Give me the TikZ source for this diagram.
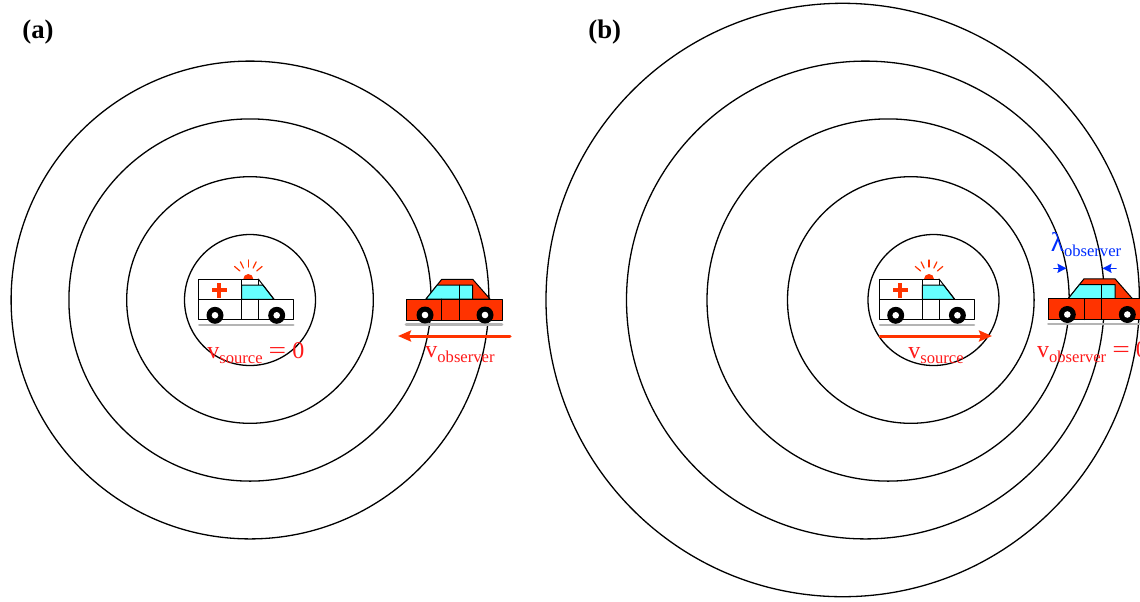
\documentclass[tikz,border=0pt]{standalone}
\usepackage{fontspec}
\setmainfont{Liberation Serif}
\usetikzlibrary{arrows.meta}

\definecolor{sirenred}{RGB}{255,51,0}
\definecolor{txtred}{RGB}{255,25,25}
\definecolor{glass}{RGB}{102,255,255}
\definecolor{road}{RGB}{180,180,180}
\definecolor{lamblue}{RGB}{0,45,255}

% lowered small subscript, upright like the main letter
\newcommand{\lowsub}[1]{\raisebox{-2.6pt}{\fontsize{8.3}{9}\selectfont #1}}
% a wider equals sign
\newcommand{\wideeq}{\scalebox{1.3}[1]{=}}

\tikzset{
	wave/.style={line width=.65pt},
	part/.style={draw=black, line width=.5pt},
	lbl/.style={inner sep=0pt, anchor=base west, text=txtred, font=\fontsize{12}{14}\selectfont},
	speed/.style={draw=sirenred, line width=1.5pt, -{Stealth[length=6.5pt,width=5.5pt,inset=1pt]}},
	gap/.style={draw=lamblue, line width=.8pt, -{Stealth[length=4.5pt,width=4.5pt,inset=.6pt]}},
	% ambulance, origin at the lower left corner of the body
	ambulance/.pic={
		\draw[road, line width=1.3pt] (1,5.5) -- (95,5.5);
		\fill[sirenred] (50,-40.3) circle (5);
		\foreach \a in {-40,-64,-90,-116,-140}
			\draw[sirenred, line width=.6pt, shift={(50,-41.3)}] (\a:11) -- (\a:18);
		\filldraw[fill=white, part] (0,-20) rectangle (43.4,-40.3);
		\filldraw[fill=white, part] (43.4,-34.3) rectangle (60,-40.3);
		\filldraw[fill=glass, part] (43.4,-20) -- (43.4,-34.3) -- (64.6,-34.3) -- (75.7,-20) -- cycle;
		\draw[part] (60,-40.3) -- (75.7,-20);
		\filldraw[fill=white, part] (0,0) rectangle (95,-20);
		\draw[part] (43.4,0) -- (43.4,-20) (60,0) -- (60,-20);
		\fill[sirenred] (13.5,-27.3) rectangle (28.5,-31.3);
		\fill[sirenred] (19,-21.8) rectangle (23,-36.8);
		\foreach \w in {16.7,78.4}{
			\fill (\w,-4) circle (8.5);
			\fill[white] (\w,-4) circle (3.3);
		}
	},
	% red car, same origin
	redcar/.pic={
		\draw[road, line width=1.3pt] (0,4.5) -- (96,4.5);
		\filldraw[fill=sirenred, part] (20,-21) -- (35.7,-40.7) -- (66.7,-40.7) -- (84,-21) -- cycle;
		\filldraw[fill=glass, part] (31.2,-35) -- (66.7,-35) -- (66.7,-21) -- (20,-21) -- cycle;
		\draw[part] (53.3,-35) -- (53.3,-21);
		\filldraw[fill=sirenred, part] (0,0) rectangle (96,-21);
		\draw[part] (35.7,0) -- (35.7,-21) (53.3,0) -- (53.3,-21);
		\foreach \w in {19,79}{
			\fill (\w,-5) circle (8.5);
			\fill[white] (\w,-5) circle (3.3);
		}
	}
}

\begin{document}
\begin{tikzpicture}[x=.5pt, y=-.5pt, line join=round, line cap=round]
	\def\rzero{65.5} \def\dr{57.8}
	\useasboundingbox (0,0) rectangle (1140,601);
	\clip (0,0) rectangle (1140,601);

	% (a) source at rest, observer moving
	\node[inner sep=0pt, anchor=base west, font=\fontsize{13.4}{15}\selectfont\bfseries] (taga) at (22,38.5) {(a)};
	\foreach \k in {0,...,3}
		\draw[wave] (250,300) circle ({\rzero+\k*\dr});
	\pic at (198.3,319.3) {ambulance};
	\pic at (406,320) {redcar};
	\coordinate (obsTail) at (510,336);
	\coordinate (obsHead) at (398,336);
	\draw[speed] (obsTail) -- (obsHead);
	\node[lbl] (vsa) at (207,358) {v\lowsub{source} \wideeq{} 0};
	\node[lbl] (voa) at (425,357) {v\lowsub{observer}};

	% (b) moving source, wavefronts bunched up ahead of it
	\node[inner sep=0pt, anchor=base west, font=\fontsize{13.4}{15}\selectfont\bfseries] (tagb) at (588,38.5) {(b)};
	\foreach \k in {0,...,4}
		\draw[wave] ({933.5-22.7*\k},300) circle ({\rzero+\k*\dr});
	\pic at (879,319.3) {ambulance};
	\pic at (1048.3,319.5) {redcar};
	\coordinate (srcTail) at (880,336);
	\coordinate (srcHead) at (992,336);
	\draw[speed] (srcTail) -- (srcHead);
	\node[lbl] (vsb) at (908,358) {v\lowsub{source}};
	\node[lbl] (vob) at (1036.7,357) {v\lowsub{observer} \wideeq{} 0};

	% wavelength seen by the observer
	\coordinate (lamL0) at (1054,268.3);
	\coordinate (lamL1) at (1066.5,268.3);
	\coordinate (lamR0) at (1116,268.3);
	\coordinate (lamR1) at (1102.5,268.3);
	\draw[gap] (lamL0) -- (lamL1);
	\draw[gap] (lamR0) -- (lamR1);
	\node[lbl, text=lamblue, font=\fontsize{13.5}{15}\selectfont] (lam) at (1050.5,251.7) {λ\lowsub{observer}};
\end{tikzpicture}
\end{document}
